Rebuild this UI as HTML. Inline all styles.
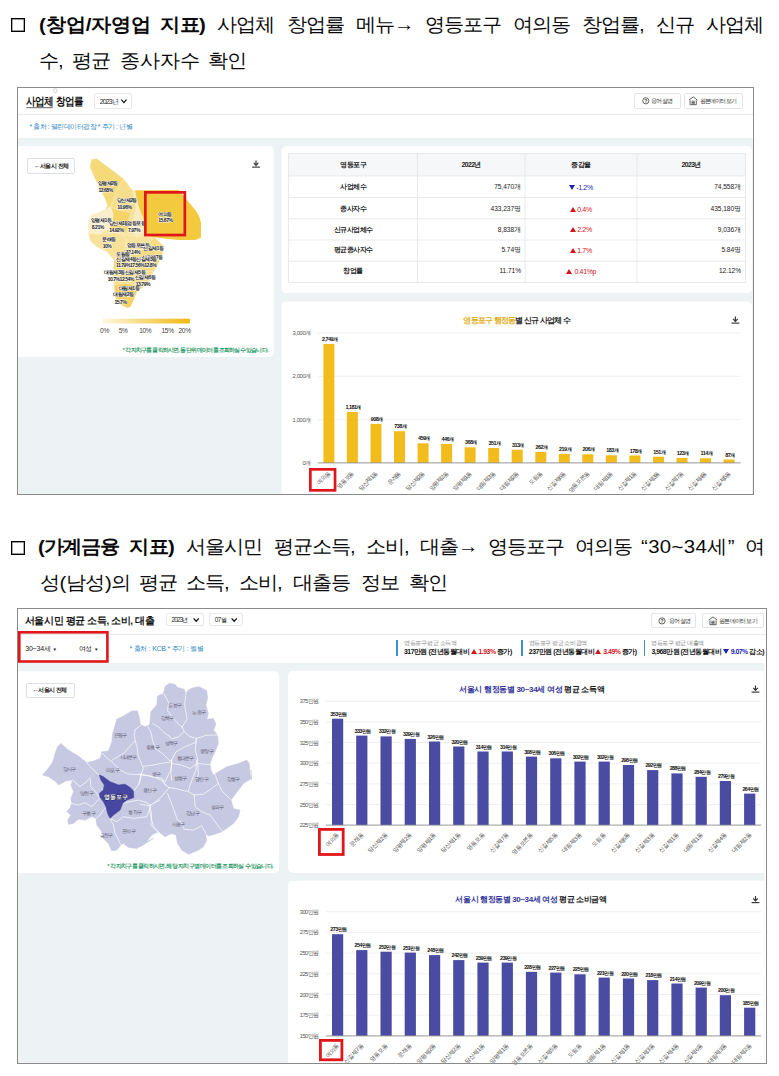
<!DOCTYPE html>
<html lang="ko">
<head>
<meta charset="utf-8">
<title>서울시 지표 확인</title>
<style>
html,body{margin:0;padding:0;background:#fff}
body{position:relative;width:779px;height:1076px;overflow:hidden;font-family:"Liberation Sans",sans-serif;color:#111}
.a{position:absolute;white-space:nowrap}
svg text{font-family:"Liberation Sans",sans-serif}
.h{position:absolute;left:0;width:779px;height:26px;font-size:19.2px;line-height:26px;letter-spacing:-1.1px;color:#0a0a0a}
.h span{position:absolute;top:0;white-space:nowrap;transform:scaleX(1.06);transform-origin:0 50%}
.h b{font-weight:bold;letter-spacing:-0.6px}
.cb{position:absolute;width:12.2px;height:12.2px;border:1px solid #000;box-shadow:inset 0 0 0 0.4px #333}
.frame{position:absolute;border:1px solid #8a8a8a;box-sizing:border-box;pointer-events:none}
.t{position:absolute;white-space:nowrap;line-height:1}
.btn{position:absolute;box-sizing:border-box;border:1px solid #e1e4e8;border-radius:2px}
.sel{position:absolute;box-sizing:border-box;border:1px solid #e6e9ec;border-radius:2px}
.up,.dn{display:inline-block;width:0;height:0;border-left:3.2px solid transparent;border-right:3.2px solid transparent;margin-right:1px;vertical-align:0}
.up{border-bottom:5.6px solid #d4141c}
.dn{border-top:5.6px solid #1d22b8}
.red{position:absolute;box-sizing:border-box;border:2px solid #e0151b}
</style>
</head>
<body>
<div class="cb" style="left:10.8px;top:17.8px"></div>
<div class="h" style="top:11.5px"><span style="left:38.8px"><b><i style="font-style:normal;letter-spacing:-0.1px">(창업/자영업</i></b> </span><span style="left:160.2px"><b>지표)</b> </span><span style="left:216.5px">사업체 </span><span style="left:286.6px">창업률 </span><span style="left:355.9px">메뉴→ </span><span style="left:425.2px">영등포구 </span><span style="left:512.5px">여의동 </span><span style="left:581.9px">창업률, </span><span style="left:655.8px">신규 </span><span style="left:705.9px">사업체 </span></div>
<div class="h" style="top:47.5px"><span style="left:38.8px">수, </span><span style="left:72.2px">평균 </span><span style="left:119.7px"><i style="font-style:normal;letter-spacing:-0.1px">종사자수</i> </span><span style="left:208.3px">확인 </span></div>
<div class="cb" style="left:10.8px;top:541px"></div>
<div class="h" style="top:534.3px"><span style="left:37.5px"><b><i style="font-style:normal;letter-spacing:-1.2px">(가계금융</i></b> </span><span style="left:128.7px"><b>지표)</b> </span><span style="left:186.4px">서울시민 </span><span style="left:273.7px">평균소득, </span><span style="left:366.2px">소비, </span><span style="left:419.6px">대출→ </span><span style="left:488.1px">영등포구 </span><span style="left:575.4px">여의동 </span><span style="left:640.9px"><i style="font-style:normal;letter-spacing:0.35px">“30~34세”</i> </span><span style="left:744.9px">여 </span></div>
<div class="h" style="top:569.5px"><span style="left:39.6px"><i style="font-style:normal;letter-spacing:-0.5px">성(남성)의</i> </span><span style="left:139.0px">평균 </span><span style="left:186.0px">소득, </span><span style="left:239.0px">소비, </span><span style="left:293.0px">대출등 </span><span style="left:360.5px">정보 </span><span style="left:408.5px">확인 </span></div>
<svg class="a" style="left:0;top:0" width="779" height="494" viewBox="0 0 779 494"><rect x="18" y="138" width="736" height="357" fill="#edf2f5"/><path d="M18 114.3H754" stroke="#e4e8eb" stroke-width="1"/><path d="M18 146H269a5 5 0 0 1 5 5V352a5 5 0 0 1 -5 5H18Z" fill="#fff"/><rect x="281.5" y="146" width="470.5" height="147" rx="5" fill="#fff"/><rect x="281.5" y="301.5" width="470.5" height="220" rx="5" fill="#fff"/><rect x="288.5" y="153.5" width="457.0" height="22.5" fill="#f6f7f9"/><path d="M288.5 153.5H745.5" stroke="#e2e5e9" stroke-width="0.8"/><path d="M288.5 176H745.5" stroke="#e2e5e9" stroke-width="0.8"/><path d="M288.5 197.5H745.5" stroke="#e2e5e9" stroke-width="0.8"/><path d="M288.5 218.7H745.5" stroke="#e2e5e9" stroke-width="0.8"/><path d="M288.5 240H745.5" stroke="#e2e5e9" stroke-width="0.8"/><path d="M288.5 261.3H745.5" stroke="#e2e5e9" stroke-width="0.8"/><path d="M288.5 282.5H745.5" stroke="#e2e5e9" stroke-width="0.8"/><path d="M288.5 153.5V282.5" stroke="#e2e5e9" stroke-width="0.8"/><path d="M417.5 153.5V282.5" stroke="#e2e5e9" stroke-width="0.8"/><path d="M525 153.5V282.5" stroke="#e2e5e9" stroke-width="0.8"/><path d="M637 153.5V282.5" stroke="#e2e5e9" stroke-width="0.8"/><path d="M745.5 153.5V282.5" stroke="#e2e5e9" stroke-width="0.8"/><polygon points="91.7,159.5 96.7,158.8 108.4,167.5 118.4,175.0 125.9,180.9 130.1,187.6 133.7,190.4 178.5,190.1 186.8,200.1 195.2,210.1 199.3,216.8 201.0,223.4 201.0,230.1 201.0,237.5 195.2,240.0 180.1,240.0 166.8,238.7 154.3,237.3 163.4,245.9 162.1,255.0 158.4,263.4 153.4,271.7 150.1,280.1 143.4,286.7 136.7,291.7 133.7,300.1 130.1,307.1 127.2,307.8 121.7,305.1 115.9,300.1 115.0,293.4 114.2,285.1 112.5,276.7 113.4,268.4 114.2,260.0 106.7,251.7 96.7,246.7 90.0,240.3 88.7,233.3 88.3,225.1 90.0,218.4 92.5,214.3 100.0,211.7 105.0,209.7 107.5,205.1 105.0,198.4 100.0,188.4 95.0,178.4 90.0,166.7" fill="#f7e3a0"/><polygon points="91.7,159.5 96.7,158.8 108.4,167.5 118.4,175.0 123.7,179.4 119.2,185.9 115.9,191.7 113.4,200.1 110.9,207.6 107.5,205.1 105.0,198.4 100.0,188.4 95.0,178.4 90.0,166.7" fill="#f6d978" stroke="#f9e9b6" stroke-width="0.5" stroke-linejoin="round"/><polygon points="123.7,179.4 130.1,187.6 132.6,190.9 134.2,200.1 135.9,208.4 130.1,212.6 122.6,210.9 114.2,208.7 110.9,207.6 113.4,200.1 115.9,191.7 119.2,185.9" fill="#f7de8a" stroke="#fbefc8" stroke-width="0.5" stroke-linejoin="round"/><polygon points="132.6,190.9 135.1,190.4 138.4,205.1 143.8,220.1 144.3,233.4 135.9,236.8 130.1,228.4 135.9,208.4 134.2,200.1" fill="#faecc0"/><polygon points="92.5,214.3 100.0,211.7 105.0,209.7 110.9,207.6 113.4,213.4 112.5,221.8 109.2,228.4 100.0,233.4 90.0,233.4 88.3,225.1 90.0,218.4" fill="#fbefcb" stroke="#fdf6df" stroke-width="0.5" stroke-linejoin="round"/><polygon points="110.9,207.6 114.2,208.7 122.6,210.9 130.1,212.6 128.4,221.8 127.6,230.1 120.1,233.4 112.5,231.8 109.2,228.4 112.5,221.8 113.4,213.4" fill="#f5d465" stroke="#fae8b0" stroke-width="0.5" stroke-linejoin="round"/><polygon points="133.7,190.4 178.5,190.1 186.8,200.1 195.2,210.1 199.3,216.8 201.0,223.4 201.0,230.1 201.0,237.5 195.2,240.0 180.1,240.0 166.8,238.7 154.3,237.3 146.8,236.0 143.8,220.1 138.4,205.1 135.1,190.4" fill="#f3c93e"/><polygon points="88.7,233.3 90.0,240.3 96.7,246.7 106.7,251.7 114.2,260.0 118.4,255.0 125.1,248.4 126.7,240.0 121.7,234.2 113.4,232.5 100.0,234.2" fill="#f8e29a" stroke="#fcf2d2" stroke-width="0.5" stroke-linejoin="round"/><polygon points="121.7,234.2 126.7,240.0 125.1,248.4 130.1,251.7 141.7,250.0 146.8,245.9 154.3,237.3 146.8,236.0 136.7,236.7 130.1,235.0" fill="#f8e39d" stroke="#fcf2d2" stroke-width="0.5" stroke-linejoin="round"/><polygon points="154.3,237.3 163.4,245.9 162.1,255.0 158.4,263.4 153.4,271.7 145.1,270.9 136.7,269.2 130.1,263.4 130.1,251.7 141.7,250.0 146.8,245.9" fill="#f7dc84" stroke="#fbefc8" stroke-width="0.5" stroke-linejoin="round"/><polygon points="114.2,260.0 118.4,255.0 125.1,248.4 130.1,251.7 130.1,263.4 125.1,269.2 117.6,270.1 113.4,268.4" fill="#f6d872" stroke="#fbefc8" stroke-width="0.5" stroke-linejoin="round"/><polygon points="113.4,268.4 117.6,270.1 125.1,269.2 130.1,263.4 136.7,269.2 145.1,270.9 153.4,271.7 150.1,280.1 143.4,286.7 135.1,285.1 125.1,283.4 114.2,285.1 112.5,276.7" fill="#f7df8e" stroke="#fcf2d2" stroke-width="0.5" stroke-linejoin="round"/><polygon points="114.2,285.1 125.1,283.4 135.1,285.1 143.4,286.7 136.7,291.7 133.7,300.1 130.1,307.1 127.2,307.8 121.7,305.1 115.9,300.1 115.0,293.4" fill="#f5d160" stroke="#fae8b0" stroke-width="0.5" stroke-linejoin="round"/><text x="107.7" y="185.4" font-size="5.1" font-weight="bold" text-anchor="middle" fill="#1c1c1c" stroke="#fff" stroke-width="0.8" paint-order="stroke" style="letter-spacing:-0.5px">양평제2동</text><text x="105.6" y="191.7" font-size="5.1" font-weight="bold" text-anchor="middle" fill="#1c1c1c" stroke="#fff" stroke-width="0.8" paint-order="stroke" style="letter-spacing:-0.5px">12.68%</text><text x="126.8" y="202.1" font-size="5.1" font-weight="bold" text-anchor="middle" fill="#1c1c1c" stroke="#fff" stroke-width="0.8" paint-order="stroke" style="letter-spacing:-0.5px">당산제2동</text><text x="124.4" y="209.0" font-size="5.1" font-weight="bold" text-anchor="middle" fill="#1c1c1c" stroke="#fff" stroke-width="0.8" paint-order="stroke" style="letter-spacing:-0.5px">10.96%</text><text x="101.1" y="221.5" font-size="5.1" font-weight="bold" text-anchor="middle" fill="#1c1c1c" stroke="#fff" stroke-width="0.8" paint-order="stroke" style="letter-spacing:-0.5px">양평제1동</text><text x="97.8" y="228.7" font-size="5.1" font-weight="bold" text-anchor="middle" fill="#1c1c1c" stroke="#fff" stroke-width="0.8" paint-order="stroke" style="letter-spacing:-0.5px">8.21%</text><text x="118.7" y="224.6" font-size="5.1" font-weight="bold" text-anchor="middle" fill="#1c1c1c" stroke="#fff" stroke-width="0.8" paint-order="stroke" style="letter-spacing:-0.5px">당산제1동</text><text x="116.3" y="231.8" font-size="5.1" font-weight="bold" text-anchor="middle" fill="#1c1c1c" stroke="#fff" stroke-width="0.8" paint-order="stroke" style="letter-spacing:-0.5px">14.92%</text><text x="136.1" y="225.1" font-size="5.1" font-weight="bold" text-anchor="middle" fill="#1c1c1c" stroke="#fff" stroke-width="0.8" paint-order="stroke" style="letter-spacing:-0.5px">영등포동</text><text x="134.0" y="232.1" font-size="5.1" font-weight="bold" text-anchor="middle" fill="#1c1c1c" stroke="#fff" stroke-width="0.8" paint-order="stroke" style="letter-spacing:-0.5px">7.97%</text><text x="164.9" y="215.6" font-size="5.1" font-weight="bold" text-anchor="middle" fill="#1c1c1c" stroke="#fff" stroke-width="0.8" paint-order="stroke" style="letter-spacing:-0.5px">여의동</text><text x="165.4" y="222.4" font-size="5.1" font-weight="bold" text-anchor="middle" fill="#1c1c1c" stroke="#fff" stroke-width="0.8" paint-order="stroke" style="letter-spacing:-0.5px">15.67%</text><text x="109.1" y="241.1" font-size="5.1" font-weight="bold" text-anchor="middle" fill="#1c1c1c" stroke="#fff" stroke-width="0.8" paint-order="stroke" style="letter-spacing:-0.5px">문래동</text><text x="107.0" y="248.3" font-size="5.1" font-weight="bold" text-anchor="middle" fill="#1c1c1c" stroke="#fff" stroke-width="0.8" paint-order="stroke" style="letter-spacing:-0.5px">10%</text><text x="137.9" y="246.5" font-size="5.1" font-weight="bold" text-anchor="middle" fill="#1c1c1c" stroke="#fff" stroke-width="0.8" paint-order="stroke" style="letter-spacing:-0.5px">영등포본동</text><text x="132.9" y="254.2" font-size="5.1" font-weight="bold" text-anchor="middle" fill="#1c1c1c" stroke="#fff" stroke-width="0.8" paint-order="stroke" style="letter-spacing:-0.5px">12.14%</text><text x="153.2" y="250.3" font-size="5.1" font-weight="bold" text-anchor="middle" fill="#1c1c1c" stroke="#fff" stroke-width="0.8" paint-order="stroke" style="letter-spacing:-0.5px">신길제1동</text><text x="123.2" y="256.0" font-size="5.1" font-weight="bold" text-anchor="middle" fill="#1c1c1c" stroke="#fff" stroke-width="0.8" paint-order="stroke" style="letter-spacing:-0.5px">도림동</text><text x="152.3" y="259.3" font-size="5.1" font-weight="bold" text-anchor="middle" fill="#1c1c1c" stroke="#fff" stroke-width="0.8" paint-order="stroke" style="letter-spacing:-0.5px">신길제7동</text><text x="136.5" y="260.8" font-size="5.1" font-weight="bold" text-anchor="middle" fill="#1c1c1c" stroke="#fff" stroke-width="0.8" paint-order="stroke" style="letter-spacing:-0.5px">신길제4동신길제3동</text><text x="136.1" y="267.0" font-size="5.1" font-weight="bold" text-anchor="middle" fill="#1c1c1c" stroke="#fff" stroke-width="0.8" paint-order="stroke" style="letter-spacing:-0.5px">11.79%17.56%12.8%</text><text x="124.8" y="274.0" font-size="5.1" font-weight="bold" text-anchor="middle" fill="#1c1c1c" stroke="#fff" stroke-width="0.8" paint-order="stroke" style="letter-spacing:-0.5px">대림제3동신길제5동</text><text x="120.8" y="280.8" font-size="5.1" font-weight="bold" text-anchor="middle" fill="#1c1c1c" stroke="#fff" stroke-width="0.8" paint-order="stroke" style="letter-spacing:-0.5px">10.7%12.54%</text><text x="145.1" y="279.0" font-size="5.1" font-weight="bold" text-anchor="middle" fill="#1c1c1c" stroke="#fff" stroke-width="0.8" paint-order="stroke" style="letter-spacing:-0.5px">신길제6동</text><text x="142.9" y="285.7" font-size="5.1" font-weight="bold" text-anchor="middle" fill="#1c1c1c" stroke="#fff" stroke-width="0.8" paint-order="stroke" style="letter-spacing:-0.5px">13.79%</text><text x="128.9" y="289.8" font-size="5.1" font-weight="bold" text-anchor="middle" fill="#1c1c1c" stroke="#fff" stroke-width="0.8" paint-order="stroke" style="letter-spacing:-0.5px">대림제1동</text><text x="123.5" y="296.1" font-size="5.1" font-weight="bold" text-anchor="middle" fill="#1c1c1c" stroke="#fff" stroke-width="0.8" paint-order="stroke" style="letter-spacing:-0.5px">대림제2동</text><text x="120.5" y="303.7" font-size="5.1" font-weight="bold" text-anchor="middle" fill="#1c1c1c" stroke="#fff" stroke-width="0.8" paint-order="stroke" style="letter-spacing:-0.5px">15.7%</text><defs><linearGradient id="lg1" x1="0" x2="1" y1="0" y2="0"><stop offset="0" stop-color="#fdf7e0"/><stop offset="1" stop-color="#f0b90f"/></linearGradient></defs><rect x="102.4" y="318.7" width="87.5" height="4.8" fill="url(#lg1)"/><text x="104.5" y="333.4" font-size="6.6" text-anchor="middle" fill="#444" style="letter-spacing:-0.3px">0%</text><text x="123.2" y="333.4" font-size="6.6" text-anchor="middle" fill="#444" style="letter-spacing:-0.3px">5%</text><text x="145.3" y="333.4" font-size="6.6" text-anchor="middle" fill="#444" style="letter-spacing:-0.3px">10%</text><text x="167.6" y="333.4" font-size="6.6" text-anchor="middle" fill="#444" style="letter-spacing:-0.3px">15%</text><text x="184.6" y="333.4" font-size="6.6" text-anchor="middle" fill="#444" style="letter-spacing:-0.3px">20%</text><g stroke="#333" stroke-width="1.15" fill="none" stroke-linecap="butt"><path d="M256 160.4V165.3M253.7 162.9L256 165.5L258.3 162.9"/><path d="M252.1 167.1H259.9"/></g><path d="M317.7 333H740.5" stroke="#e9ebee" stroke-width="0.8"/><path d="M317.7 376.3H740.5" stroke="#e9ebee" stroke-width="0.8"/><path d="M317.7 419.7H740.5" stroke="#e9ebee" stroke-width="0.8"/><rect x="323.4" y="344.0" width="11" height="118.9" fill="#f2bd1c"/><rect x="346.9" y="412.0" width="11" height="50.9" fill="#f2bd1c"/><rect x="370.5" y="423.9" width="11" height="39.0" fill="#f2bd1c"/><rect x="394.0" y="431.2" width="11" height="31.7" fill="#f2bd1c"/><rect x="417.6" y="443.3" width="11" height="19.6" fill="#f2bd1c"/><rect x="441.1" y="443.9" width="11" height="19.0" fill="#f2bd1c"/><rect x="464.6" y="447.3" width="11" height="15.6" fill="#f2bd1c"/><rect x="488.2" y="448.0" width="11" height="14.9" fill="#f2bd1c"/><rect x="511.7" y="449.7" width="11" height="13.2" fill="#f2bd1c"/><rect x="535.3" y="451.9" width="11" height="11.0" fill="#f2bd1c"/><rect x="558.8" y="453.8" width="11" height="9.1" fill="#f2bd1c"/><rect x="582.3" y="454.3" width="11" height="8.6" fill="#f2bd1c"/><rect x="605.9" y="455.3" width="11" height="7.6" fill="#f2bd1c"/><rect x="629.4" y="455.5" width="11" height="7.4" fill="#f2bd1c"/><rect x="653.0" y="456.7" width="11" height="6.2" fill="#f2bd1c"/><rect x="676.5" y="457.9" width="11" height="5.0" fill="#f2bd1c"/><rect x="700.0" y="458.3" width="11" height="4.6" fill="#f2bd1c"/><rect x="723.6" y="459.5" width="11" height="3.4" fill="#f2bd1c"/><path d="M317.7 462.9H740.5" stroke="#8c8c8c" stroke-width="0.9"/><text x="329.7" y="341.0" font-size="5.4" font-weight="bold" text-anchor="middle" fill="#111" style="letter-spacing:-0.5px">2,749개</text><text x="353.2" y="409.0" font-size="5.4" font-weight="bold" text-anchor="middle" fill="#111" style="letter-spacing:-0.5px">1,181개</text><text x="376.8" y="420.9" font-size="5.4" font-weight="bold" text-anchor="middle" fill="#111" style="letter-spacing:-0.5px">908개</text><text x="400.3" y="428.2" font-size="5.4" font-weight="bold" text-anchor="middle" fill="#111" style="letter-spacing:-0.5px">738개</text><text x="423.9" y="440.3" font-size="5.4" font-weight="bold" text-anchor="middle" fill="#111" style="letter-spacing:-0.5px">459개</text><text x="447.4" y="440.9" font-size="5.4" font-weight="bold" text-anchor="middle" fill="#111" style="letter-spacing:-0.5px">446개</text><text x="470.9" y="444.3" font-size="5.4" font-weight="bold" text-anchor="middle" fill="#111" style="letter-spacing:-0.5px">368개</text><text x="494.5" y="445.0" font-size="5.4" font-weight="bold" text-anchor="middle" fill="#111" style="letter-spacing:-0.5px">351개</text><text x="518.0" y="446.7" font-size="5.4" font-weight="bold" text-anchor="middle" fill="#111" style="letter-spacing:-0.5px">313개</text><text x="541.6" y="448.9" font-size="5.4" font-weight="bold" text-anchor="middle" fill="#111" style="letter-spacing:-0.5px">262개</text><text x="565.1" y="450.8" font-size="5.4" font-weight="bold" text-anchor="middle" fill="#111" style="letter-spacing:-0.5px">219개</text><text x="588.6" y="451.3" font-size="5.4" font-weight="bold" text-anchor="middle" fill="#111" style="letter-spacing:-0.5px">206개</text><text x="612.2" y="452.3" font-size="5.4" font-weight="bold" text-anchor="middle" fill="#111" style="letter-spacing:-0.5px">183개</text><text x="635.7" y="452.5" font-size="5.4" font-weight="bold" text-anchor="middle" fill="#111" style="letter-spacing:-0.5px">178개</text><text x="659.3" y="453.7" font-size="5.4" font-weight="bold" text-anchor="middle" fill="#111" style="letter-spacing:-0.5px">151개</text><text x="682.8" y="454.9" font-size="5.4" font-weight="bold" text-anchor="middle" fill="#111" style="letter-spacing:-0.5px">123개</text><text x="706.3" y="455.3" font-size="5.4" font-weight="bold" text-anchor="middle" fill="#111" style="letter-spacing:-0.5px">114개</text><text x="729.9" y="456.5" font-size="5.4" font-weight="bold" text-anchor="middle" fill="#111" style="letter-spacing:-0.5px">87개</text><text transform="translate(330.6 473.9) rotate(-45)" font-size="5.8" text-anchor="end" fill="#484848" style="letter-spacing:-0.7px">여의동</text><text transform="translate(354.1 473.9) rotate(-45)" font-size="5.8" text-anchor="end" fill="#484848" style="letter-spacing:-0.7px">영등포동</text><text transform="translate(377.7 473.9) rotate(-45)" font-size="5.8" text-anchor="end" fill="#484848" style="letter-spacing:-0.7px">당산제1동</text><text transform="translate(401.2 473.9) rotate(-45)" font-size="5.8" text-anchor="end" fill="#484848" style="letter-spacing:-0.7px">문래동</text><text transform="translate(424.8 473.9) rotate(-45)" font-size="5.8" text-anchor="end" fill="#484848" style="letter-spacing:-0.7px">당산제2동</text><text transform="translate(448.3 473.9) rotate(-45)" font-size="5.8" text-anchor="end" fill="#484848" style="letter-spacing:-0.7px">양평제2동</text><text transform="translate(471.8 473.9) rotate(-45)" font-size="5.8" text-anchor="end" fill="#484848" style="letter-spacing:-0.7px">양평제1동</text><text transform="translate(495.4 473.9) rotate(-45)" font-size="5.8" text-anchor="end" fill="#484848" style="letter-spacing:-0.7px">대림제3동</text><text transform="translate(518.9 473.9) rotate(-45)" font-size="5.8" text-anchor="end" fill="#484848" style="letter-spacing:-0.7px">대림제2동</text><text transform="translate(542.5 473.9) rotate(-45)" font-size="5.8" text-anchor="end" fill="#484848" style="letter-spacing:-0.7px">도림동</text><text transform="translate(566.0 473.9) rotate(-45)" font-size="5.8" text-anchor="end" fill="#484848" style="letter-spacing:-0.7px">신길제6동</text><text transform="translate(589.5 473.9) rotate(-45)" font-size="5.8" text-anchor="end" fill="#484848" style="letter-spacing:-0.7px">영등포본동</text><text transform="translate(613.1 473.9) rotate(-45)" font-size="5.8" text-anchor="end" fill="#484848" style="letter-spacing:-0.7px">대림제1동</text><text transform="translate(636.6 473.9) rotate(-45)" font-size="5.8" text-anchor="end" fill="#484848" style="letter-spacing:-0.7px">신길제1동</text><text transform="translate(660.2 473.9) rotate(-45)" font-size="5.8" text-anchor="end" fill="#484848" style="letter-spacing:-0.7px">신길제3동</text><text transform="translate(683.7 473.9) rotate(-45)" font-size="5.8" text-anchor="end" fill="#484848" style="letter-spacing:-0.7px">신길제7동</text><text transform="translate(707.2 473.9) rotate(-45)" font-size="5.8" text-anchor="end" fill="#484848" style="letter-spacing:-0.7px">신길제4동</text><text transform="translate(730.8 473.9) rotate(-45)" font-size="5.8" text-anchor="end" fill="#484848" style="letter-spacing:-0.7px">신길제5동</text><text x="311" y="335.0" font-size="5.8" text-anchor="end" fill="#555" style="letter-spacing:-0.35px">3,000개</text><text x="311" y="378.3" font-size="5.8" text-anchor="end" fill="#555" style="letter-spacing:-0.35px">2,000개</text><text x="311" y="421.7" font-size="5.8" text-anchor="end" fill="#555" style="letter-spacing:-0.35px">1,000개</text><text x="311" y="465.0" font-size="5.8" text-anchor="end" fill="#555" style="letter-spacing:-0.35px">0개</text><g stroke="#333" stroke-width="1.15" fill="none" stroke-linecap="butt"><path d="M735.4 316.4V321.3M733.1 318.9L735.4 321.5L737.6999999999999 318.9"/><path d="M731.5 323.1H739.3"/></g><path d="M121.30000000000001 99.7L123.9 102.60000000000001L126.5 99.7" fill="none" stroke="#111" stroke-width="1.25"/><path d="M26.4 107.7H52.8" stroke="#222" stroke-width="0.7"/><circle cx="55.2" cy="90.6" r="1.9" fill="#fff" stroke="#b5b5b5" stroke-width="0.6"/><circle cx="645.8" cy="100.8" r="3.1" fill="none" stroke="#333" stroke-width="0.75"/><text x="645.8" y="102.6" font-size="5" text-anchor="middle" fill="#333" font-weight="bold">?</text><g stroke="#333" stroke-width="0.75" fill="none"><path d="M689.0 100.10000000000001L693.2 96.9L697.4000000000001 100.10000000000001"/><path d="M690.1 100.30000000000001V104.7H696.3000000000001V100.30000000000001"/><path d="M691.5 101.2H694.9000000000001M691.5 102.5H694.9000000000001M691.5 103.80000000000001H694.9000000000001"/></g></svg>
<div class="t" style="top:96.0px;font-size:10.6px;height:10.6px;line-height:10.6px;color:#111;font-weight:bold;left:25.8px;letter-spacing:-0.5px;transform:scaleX(0.87);transform-origin:0 50%;">사업체 창업률</div>
<div class="sel" style="left:94.2px;top:93px;width:38px;height:15.7px"></div>
<div class="t" style="top:97.7px;font-size:7px;height:7px;line-height:7px;color:#222;left:99.8px;letter-spacing:-0.95px;">2023년</div>
<div class="btn" style="left:634.2px;top:92.6px;width:47px;height:16.4px"></div>
<div class="t" style="top:97.8px;font-size:6px;height:6px;line-height:6px;color:#333;left:651.4px;letter-spacing:-0.9px;">용어 설명</div>
<div class="btn" style="left:683.5px;top:92.6px;width:59.8px;height:16.4px"></div>
<div class="t" style="top:97.8px;font-size:6px;height:6px;line-height:6px;color:#333;left:699.5px;letter-spacing:-0.9px;">원본데이터 보기</div>
<div class="t" style="top:123.1px;font-size:7.0px;height:7.0px;line-height:7.0px;color:#3288c4;left:29.6px;letter-spacing:-0.48px;">* 출처 : 열린데이터광장 * 주기 : 년별</div>
<div class="btn" style="left:27.3px;top:158.3px;width:48.2px;height:15.8px;border-color:#dcdfe3"></div>
<div class="t" style="top:163.2px;font-size:6.4px;height:6.4px;line-height:6.4px;color:#222;font-weight:bold;left:34.2px;letter-spacing:-0.55px;">←서울시 전체</div>
<div class="t" style="top:347.7px;font-size:5.6px;height:5.6px;line-height:5.6px;color:#2c9a68;font-weight:bold;right:511.4px;text-align:right;letter-spacing:-0.8px;">* 각 자치구를 클릭하시면, 동 단위 데이터를 조회하실 수 있습니다.</div>
<svg class="a" style="left:142.6px;top:189.9px" width="44.2" height="47.4" viewBox="0 0 44.2 47.4"><rect x="2.35" y="2.35" width="39.50" height="42.70" fill="none" stroke="#e0161a" stroke-width="2.7"/></svg>
<div class="t" style="top:162.1px;font-size:6.8px;height:6.8px;line-height:6.8px;color:#222;font-weight:bold;left:203.0px;width:300px;text-align:center;letter-spacing:-0.5px;">영등포구</div>
<div class="t" style="top:162.1px;font-size:6.8px;height:6.8px;line-height:6.8px;color:#222;font-weight:bold;left:321.2px;width:300px;text-align:center;letter-spacing:-0.5px;">2022년</div>
<div class="t" style="top:162.1px;font-size:6.8px;height:6.8px;line-height:6.8px;color:#222;font-weight:bold;left:431.0px;width:300px;text-align:center;letter-spacing:-0.5px;">증감율</div>
<div class="t" style="top:162.1px;font-size:6.8px;height:6.8px;line-height:6.8px;color:#222;font-weight:bold;left:541.2px;width:300px;text-align:center;letter-spacing:-0.5px;">2023년</div>
<div class="t" style="top:184.2px;font-size:6.6px;height:6.6px;line-height:6.6px;color:#222;font-weight:bold;left:203.0px;width:300px;text-align:center;letter-spacing:-0.5px;">사업체수</div>
<div class="t" style="top:184.2px;font-size:6.6px;height:6.6px;line-height:6.6px;color:#222;right:258.0px;text-align:right;letter-spacing:-0.05px;">75,470개</div>
<div class="t" style="top:184.2px;font-size:6.6px;height:6.6px;line-height:6.6px;color:#222;right:38.0px;text-align:right;letter-spacing:-0.05px;">74,558개</div>
<div class="t" style="top:184.0px;font-size:7px;height:7px;line-height:7px;color:#1d22b8;left:431.0px;width:300px;text-align:center;letter-spacing:-0.35px;"><i class="dn"></i>-1.2%</div>
<div class="t" style="top:205.7px;font-size:6.6px;height:6.6px;line-height:6.6px;color:#222;font-weight:bold;left:203.0px;width:300px;text-align:center;letter-spacing:-0.5px;">종사자수</div>
<div class="t" style="top:205.7px;font-size:6.6px;height:6.6px;line-height:6.6px;color:#222;right:258.0px;text-align:right;letter-spacing:-0.05px;">433,237명</div>
<div class="t" style="top:205.7px;font-size:6.6px;height:6.6px;line-height:6.6px;color:#222;right:38.0px;text-align:right;letter-spacing:-0.05px;">435,180명</div>
<div class="t" style="top:205.5px;font-size:7px;height:7px;line-height:7px;color:#d4141c;left:431.0px;width:300px;text-align:center;letter-spacing:-0.35px;"><i class="up"></i>0.4%</div>
<div class="t" style="top:226.5px;font-size:6.6px;height:6.6px;line-height:6.6px;color:#222;font-weight:bold;left:203.0px;width:300px;text-align:center;letter-spacing:-0.5px;">신규사업체수</div>
<div class="t" style="top:226.5px;font-size:6.6px;height:6.6px;line-height:6.6px;color:#222;right:258.0px;text-align:right;letter-spacing:-0.05px;">8,838개</div>
<div class="t" style="top:226.5px;font-size:6.6px;height:6.6px;line-height:6.6px;color:#222;right:38.0px;text-align:right;letter-spacing:-0.05px;">9,036개</div>
<div class="t" style="top:226.3px;font-size:7px;height:7px;line-height:7px;color:#d4141c;left:431.0px;width:300px;text-align:center;letter-spacing:-0.35px;"><i class="up"></i>2.2%</div>
<div class="t" style="top:247.2px;font-size:6.6px;height:6.6px;line-height:6.6px;color:#222;font-weight:bold;left:203.0px;width:300px;text-align:center;letter-spacing:-0.5px;">평균종사자수</div>
<div class="t" style="top:247.2px;font-size:6.6px;height:6.6px;line-height:6.6px;color:#222;right:258.0px;text-align:right;letter-spacing:-0.05px;">5.74명</div>
<div class="t" style="top:247.2px;font-size:6.6px;height:6.6px;line-height:6.6px;color:#222;right:38.0px;text-align:right;letter-spacing:-0.05px;">5.84명</div>
<div class="t" style="top:247.0px;font-size:7px;height:7px;line-height:7px;color:#d4141c;left:431.0px;width:300px;text-align:center;letter-spacing:-0.35px;"><i class="up"></i>1.7%</div>
<div class="t" style="top:268.1px;font-size:6.6px;height:6.6px;line-height:6.6px;color:#222;font-weight:bold;left:203.0px;width:300px;text-align:center;letter-spacing:-0.5px;">창업률</div>
<div class="t" style="top:268.1px;font-size:6.6px;height:6.6px;line-height:6.6px;color:#222;right:258.0px;text-align:right;letter-spacing:-0.05px;">11.71%</div>
<div class="t" style="top:268.1px;font-size:6.6px;height:6.6px;line-height:6.6px;color:#222;right:38.0px;text-align:right;letter-spacing:-0.05px;">12.12%</div>
<div class="t" style="top:267.9px;font-size:7px;height:7px;line-height:7px;color:#d4141c;left:431.0px;width:300px;text-align:center;letter-spacing:-0.35px;"><i class="up"></i> 0.41%p</div>
<div class="t" style="top:317.0px;font-size:8px;height:8px;line-height:8px;color:#222;font-weight:bold;left:366.7px;width:300px;text-align:center;letter-spacing:-0.8px;"><span style="color:#e3ac19">영등포구 행정동</span>별 신규 사업체 수</div>
<svg class="a" style="left:308.2px;top:467.1px" width="29.4" height="25.7" viewBox="0 0 29.4 25.7"><rect x="2.35" y="2.35" width="24.70" height="21.00" fill="none" stroke="#e0161a" stroke-width="2.7"/></svg>
<div class="frame" style="left:17px;top:87px;width:736.7px;height:407.6px"></div>
<svg class="a" style="left:0;top:600px" width="779" height="476" viewBox="0 600 779 476"><rect x="18" y="663" width="746.5" height="401" fill="#edf2f5"/><path d="M18 634.3H767" stroke="#e4e8eb" stroke-width="1"/><path d="M18 671.2H274.2a5 5 0 0 1 5 5V868a5 5 0 0 1 -5 5H18Z" fill="#fff"/><path d="M764.5 670.7H293a5 5 0 0 0 -5 5V868a5 5 0 0 0 5 5H764.5Z" fill="#fff"/><path d="M764.5 880.8H293a5 5 0 0 0 -5 5V1064H764.5Z" fill="#fff"/><polygon points="116.8,719.2 123.5,715.9 131.8,710.9 137.6,710.9 139.3,717.6 140.5,724.7 145.2,726.7 149.5,724.7 150.5,715.9 150.8,711.7 156.7,705.0 157.5,695.9 163.4,693.4 165.0,686.7 169.2,683.3 175.0,684.2 177.6,687.5 184.2,689.2 185.9,693.4 188.4,690.0 193.4,687.5 199.2,686.7 206.8,690.8 207.6,698.4 205.9,705.0 208.4,713.4 206.8,719.2 213.4,718.4 215.9,724.2 213.4,730.1 217.6,735.1 218.4,743.4 215.1,751.8 211.8,758.4 210.1,763.4 210.9,770.1 213.4,775.1 218.4,771.8 226.8,766.8 238.5,763.4 246.8,760.1 249.3,763.4 250.1,773.5 251.5,780.0 251.0,770.0 251.5,778.4 243.5,783.4 238.5,790.0 233.5,796.7 231.0,800.1 233.5,808.4 240.1,810.1 238.5,816.7 233.5,823.4 226.8,828.4 221.8,831.8 215.1,834.3 208.4,835.9 205.4,833.8 206.8,840.1 203.4,846.8 196.7,851.0 188.4,854.3 181.7,850.1 177.6,843.4 175.9,835.1 171.7,833.4 165.0,836.8 158.4,831.8 151.7,835.1 146.7,841.8 140.0,846.8 153.5,838.4 146.8,841.8 141.0,845.9 136.8,848.5 128.5,847.6 123.5,843.4 121.0,845.1 116.8,850.1 111.8,851.0 108.4,843.4 103.4,838.4 101.8,831.8 96.8,825.1 95.9,818.4 91.7,816.7 85.1,820.1 78.4,819.2 73.4,823.4 68.4,824.3 67.6,820.1 70.9,815.1 66.7,811.7 70.1,807.6 71.7,803.4 70.9,798.4 73.4,791.7 70.9,785.0 72.6,780.0 65.9,780.9 58.4,785.0 55.9,781.7 48.4,776.7 42.5,775.0 48.4,768.3 51.7,763.3 53.4,760.0 55.0,753.4 57.5,746.8 60.9,743.4 68.4,750.1 78.4,755.9 86.7,762.6 93.4,760.9 100.1,758.4 101.8,751.8 108.4,750.9 111.8,741.7 112.6,733.4 115.1,725.1" fill="#c7c8e1" stroke="#c7c8e1" stroke-width="0.5" stroke-linejoin="round"/><path d="M185.9 693.4L184.7 705.0L187.1 719.2L182.1 726.7" fill="none" stroke="#fff" stroke-width="0.7" stroke-linejoin="round" stroke-linecap="round"/><path d="M164.2 694.2L168.7 702.5L167.5 710.9L174.2 719.2L180.1 725.9L182.1 726.7" fill="none" stroke="#fff" stroke-width="0.7" stroke-linejoin="round" stroke-linecap="round"/><path d="M170.0 736.7L171.7 739.2L178.4 736.7L184.2 731.7L182.1 726.7" fill="none" stroke="#fff" stroke-width="0.7" stroke-linejoin="round" stroke-linecap="round"/><path d="M184.2 731.7L190.1 736.7L196.7 738.4L206.8 735.1L217.6 735.1" fill="none" stroke="#fff" stroke-width="0.7" stroke-linejoin="round" stroke-linecap="round"/><path d="M170.0 761.3L171.7 760.1L171.7 763.4" fill="none" stroke="#fff" stroke-width="0.7" stroke-linejoin="round" stroke-linecap="round"/><path d="M171.7 760.1L175.9 751.8L185.1 746.8L195.1 742.6L196.7 738.4" fill="none" stroke="#fff" stroke-width="0.7" stroke-linejoin="round" stroke-linecap="round"/><path d="M196.7 738.4L195.1 750.1L197.6 758.4L197.6 763.4L210.9 764.8" fill="none" stroke="#fff" stroke-width="0.7" stroke-linejoin="round" stroke-linecap="round"/><path d="M171.7 763.4L181.7 765.1L190.1 768.5L197.6 763.4" fill="none" stroke="#fff" stroke-width="0.7" stroke-linejoin="round" stroke-linecap="round"/><path d="M197.6 763.4L198.4 773.5L196.7 780.0" fill="none" stroke="#fff" stroke-width="0.7" stroke-linejoin="round" stroke-linecap="round"/><path d="M171.7 763.4L170.9 773.5L171.7 780.0" fill="none" stroke="#fff" stroke-width="0.7" stroke-linejoin="round" stroke-linecap="round"/><path d="M135.2 740.7L123.9 753.0L112.1 760.2" fill="none" stroke="#fff" stroke-width="0.7" stroke-linejoin="round" stroke-linecap="round"/><path d="M102.3 753.5L108.5 759.2L114.6 764.3L120.8 770.5L128.0 774.0L135.2 774.6L141.3 774.0" fill="none" stroke="#fff" stroke-width="0.7" stroke-linejoin="round" stroke-linecap="round"/><path d="M140.3 725.8L135.2 729.4L134.2 735.5L135.2 740.7L137.2 747.9L138.3 756.1L141.3 763.3L143.4 768.4L141.3 774.0L140.3 780.7L138.3 785.0" fill="none" stroke="#fff" stroke-width="0.7" stroke-linejoin="round" stroke-linecap="round"/><path d="M147.5 725.8L151.1 732.5L152.6 740.7L155.7 748.9L161.9 753.0L167.0 758.1L170.0 761.2" fill="none" stroke="#fff" stroke-width="0.7" stroke-linejoin="round" stroke-linecap="round"/><path d="M143.4 766.3L151.6 765.3L161.9 763.3L170.0 762.2" fill="none" stroke="#fff" stroke-width="0.7" stroke-linejoin="round" stroke-linecap="round"/><path d="M141.3 774.0L147.5 775.6L155.7 777.6L161.9 780.7L166.0 785.0" fill="none" stroke="#fff" stroke-width="0.7" stroke-linejoin="round" stroke-linecap="round"/><path d="M152.6 723.7L157.8 726.3L163.9 732.5L170.0 736.6" fill="none" stroke="#fff" stroke-width="0.7" stroke-linejoin="round" stroke-linecap="round"/><path d="M86.7 762.6L93.4 770.1L99.3 775.1" fill="none" stroke="#fff" stroke-width="0.7" stroke-linejoin="round" stroke-linecap="round"/><path d="M196.7 760.0L195.9 770.0L190.1 785.0L188.4 790.9" fill="none" stroke="#fff" stroke-width="0.7" stroke-linejoin="round" stroke-linecap="round"/><path d="M171.7 760.0L170.9 770.0L165.0 781.7L161.7 778.4" fill="none" stroke="#fff" stroke-width="0.7" stroke-linejoin="round" stroke-linecap="round"/><path d="M140.0 775.0L150.0 775.9L161.7 778.4L165.0 785.0L169.2 787.5" fill="none" stroke="#fff" stroke-width="0.7" stroke-linejoin="round" stroke-linecap="round"/><path d="M169.2 787.5L161.7 796.7L153.4 803.4L150.0 805.9L140.0 804.2" fill="none" stroke="#fff" stroke-width="0.7" stroke-linejoin="round" stroke-linecap="round"/><path d="M169.2 787.5L178.4 789.2L188.4 791.7L194.2 795.0" fill="none" stroke="#fff" stroke-width="0.7" stroke-linejoin="round" stroke-linecap="round"/><path d="M194.2 795.0L203.4 794.2L211.8 788.4L218.4 783.4L215.9 776.7L213.4 771.7" fill="none" stroke="#fff" stroke-width="0.7" stroke-linejoin="round" stroke-linecap="round"/><path d="M218.4 783.4L221.8 790.9L231.0 799.7" fill="none" stroke="#fff" stroke-width="0.7" stroke-linejoin="round" stroke-linecap="round"/><path d="M194.2 795.0L195.1 806.7L201.7 811.7L210.1 815.1L215.1 821.7L221.8 830.9" fill="none" stroke="#fff" stroke-width="0.7" stroke-linejoin="round" stroke-linecap="round"/><path d="M167.5 793.4L173.4 808.4L177.6 820.1L180.9 821.7L184.2 829.3L193.4 830.1L201.7 825.9L205.9 833.4" fill="none" stroke="#fff" stroke-width="0.7" stroke-linejoin="round" stroke-linecap="round"/><path d="M150.0 805.9L151.7 815.1L150.8 825.1L157.5 831.8" fill="none" stroke="#fff" stroke-width="0.7" stroke-linejoin="round" stroke-linecap="round"/><path d="M133.8 790.9L138.5 785.0L141.3 774.0" fill="none" stroke="#fff" stroke-width="0.7" stroke-linejoin="round" stroke-linecap="round"/><path d="M72.6 780.0L80.1 786.7L86.7 781.7L90.1 777.5L90.9 786.7L96.8 793.4L99.3 797.6" fill="none" stroke="#fff" stroke-width="0.7" stroke-linejoin="round" stroke-linecap="round"/><path d="M71.7 803.4L78.4 805.1L85.1 802.6L91.7 806.7L96.8 801.7L100.1 798.4" fill="none" stroke="#fff" stroke-width="0.7" stroke-linejoin="round" stroke-linecap="round"/><path d="M95.9 818.4L100.1 815.1L103.4 810.1L105.9 807.6" fill="none" stroke="#fff" stroke-width="0.7" stroke-linejoin="round" stroke-linecap="round"/><path d="M110.1 818.4L116.8 821.7L123.5 816.7L133.5 818.4L146.8 816.7L149.3 810.1L150.2 805.1L160.0 800.1" fill="none" stroke="#fff" stroke-width="0.7" stroke-linejoin="round" stroke-linecap="round"/><path d="M110.1 818.4L113.4 825.1L115.1 833.4L121.0 845.1" fill="none" stroke="#fff" stroke-width="0.7" stroke-linejoin="round" stroke-linecap="round"/><path d="M149.3 810.1L153.5 826.8L160.0 833.4" fill="none" stroke="#fff" stroke-width="0.7" stroke-linejoin="round" stroke-linecap="round"/><path d="M122.6 803.4L130.1 801.7L138.5 800.1L146.8 802.6L150.2 805.1" fill="none" stroke="#fff" stroke-width="0.7" stroke-linejoin="round" stroke-linecap="round"/><polygon points="99.3,775.0 103.4,776.7 110.1,781.7 118.5,785.0 125.1,784.2 130.1,787.5 133.5,790.9 133.8,797.6 126.8,800.1 122.6,803.4 120.1,810.1 113.4,815.1 110.1,818.4 107.6,813.4 105.9,806.7 103.4,801.7 100.1,797.6 99.3,793.4 103.4,790.0 104.3,785.0 100.9,780.0" fill="#4747a1" stroke="#4747a1" stroke-width="0.6" stroke-linejoin="round"/><text x="174.8" y="706.8" font-size="5.2" text-anchor="middle" fill="#55566f" style="letter-spacing:-0.75px">도봉구</text><text x="198.8" y="713.6" font-size="5.2" text-anchor="middle" fill="#55566f" style="letter-spacing:-0.75px">노원구</text><text x="167.1" y="719.8" font-size="5.2" text-anchor="middle" fill="#55566f" style="letter-spacing:-0.75px">강북구</text><text x="120.3" y="737.3" font-size="5.2" text-anchor="middle" fill="#55566f" style="letter-spacing:-0.75px">은평구</text><text x="171.1" y="745" font-size="5.2" text-anchor="middle" fill="#55566f" style="letter-spacing:-0.75px">성북구</text><text x="152.6" y="749" font-size="5.2" text-anchor="middle" fill="#55566f" style="letter-spacing:-0.75px">종로구</text><text x="206.5" y="752.7" font-size="5.2" text-anchor="middle" fill="#55566f" style="letter-spacing:-0.75px">중랑구</text><text x="128" y="759.2" font-size="5.2" text-anchor="middle" fill="#55566f" style="letter-spacing:-0.75px">서대문구</text><text x="185" y="759.8" font-size="5.2" text-anchor="middle" fill="#55566f" style="letter-spacing:-0.75px">동대문구</text><text x="69.1" y="770.6" font-size="5.2" text-anchor="middle" fill="#55566f" style="letter-spacing:-0.75px">강서구</text><text x="112.6" y="772.1" font-size="5.2" text-anchor="middle" fill="#55566f" style="letter-spacing:-0.75px">마포구</text><text x="156.3" y="775.8" font-size="5.2" text-anchor="middle" fill="#55566f" style="letter-spacing:-0.75px">중구</text><text x="180" y="780.4" font-size="5.2" text-anchor="middle" fill="#55566f" style="letter-spacing:-0.75px">성동구</text><text x="201.6" y="781" font-size="5.2" text-anchor="middle" fill="#55566f" style="letter-spacing:-0.75px">광진구</text><text x="233.3" y="781" font-size="5.2" text-anchor="middle" fill="#55566f" style="letter-spacing:-0.75px">강동구</text><text x="149.5" y="792.1" font-size="5.2" text-anchor="middle" fill="#55566f" style="letter-spacing:-0.75px">용산구</text><text x="86.4" y="794.6" font-size="5.2" text-anchor="middle" fill="#55566f" style="letter-spacing:-0.75px">양천구</text><text x="217.3" y="809.1" font-size="5.2" text-anchor="middle" fill="#55566f" style="letter-spacing:-0.75px">송파구</text><text x="134.7" y="814.3" font-size="5.2" text-anchor="middle" fill="#55566f" style="letter-spacing:-0.75px">동작구</text><text x="88.5" y="815.3" font-size="5.2" text-anchor="middle" fill="#55566f" style="letter-spacing:-0.75px">구로구</text><text x="192.4" y="815.3" font-size="5.2" text-anchor="middle" fill="#55566f" style="letter-spacing:-0.75px">강남구</text><text x="177.9" y="826" font-size="5.2" text-anchor="middle" fill="#55566f" style="letter-spacing:-0.75px">서초구</text><text x="128.6" y="833.1" font-size="5.2" text-anchor="middle" fill="#55566f" style="letter-spacing:-0.75px">관악구</text><text x="106.1" y="836.8" font-size="5.2" text-anchor="middle" fill="#55566f" style="letter-spacing:-0.75px">금천구</text><text x="115.6" y="798.5" font-size="6.4" font-weight="bold" text-anchor="middle" fill="#fff" stroke="#22224f" stroke-width="0.8" paint-order="stroke">영등포구</text><path d="M325.9 701.3H761.2" stroke="#e9ebee" stroke-width="0.8"/><path d="M325.9 721.9H761.2" stroke="#e9ebee" stroke-width="0.8"/><path d="M325.9 742.5H761.2" stroke="#e9ebee" stroke-width="0.8"/><path d="M325.9 763.2H761.2" stroke="#e9ebee" stroke-width="0.8"/><path d="M325.9 783.8H761.2" stroke="#e9ebee" stroke-width="0.8"/><path d="M325.9 804.5H761.2" stroke="#e9ebee" stroke-width="0.8"/><rect x="332.0" y="718.7" width="11.2" height="106.4" fill="#4a4ba2"/><rect x="356.2" y="735.6" width="11.2" height="89.5" fill="#4a4ba2"/><rect x="380.5" y="736.4" width="11.2" height="88.7" fill="#4a4ba2"/><rect x="404.7" y="738.9" width="11.2" height="86.2" fill="#4a4ba2"/><rect x="429.0" y="741.5" width="11.2" height="83.6" fill="#4a4ba2"/><rect x="453.2" y="746.5" width="11.2" height="78.6" fill="#4a4ba2"/><rect x="477.4" y="751.5" width="11.2" height="73.6" fill="#4a4ba2"/><rect x="501.7" y="751.5" width="11.2" height="73.6" fill="#4a4ba2"/><rect x="525.9" y="756.6" width="11.2" height="68.5" fill="#4a4ba2"/><rect x="550.2" y="758.3" width="11.2" height="66.8" fill="#4a4ba2"/><rect x="574.4" y="761.6" width="11.2" height="63.5" fill="#4a4ba2"/><rect x="598.6" y="761.6" width="11.2" height="63.5" fill="#4a4ba2"/><rect x="622.9" y="765.0" width="11.2" height="60.1" fill="#4a4ba2"/><rect x="647.1" y="770.1" width="11.2" height="55.0" fill="#4a4ba2"/><rect x="671.4" y="773.4" width="11.2" height="51.7" fill="#4a4ba2"/><rect x="695.6" y="776.8" width="11.2" height="48.3" fill="#4a4ba2"/><rect x="719.8" y="781.0" width="11.2" height="44.1" fill="#4a4ba2"/><rect x="744.1" y="793.6" width="11.2" height="31.5" fill="#4a4ba2"/><path d="M325.9 825.1H761.2" stroke="#8c8c8c" stroke-width="0.9"/><text x="338.4" y="715.7" font-size="5.4" font-weight="bold" text-anchor="middle" fill="#111" style="letter-spacing:-0.55px">353만원</text><text x="362.6" y="732.6" font-size="5.4" font-weight="bold" text-anchor="middle" fill="#111" style="letter-spacing:-0.55px">333만원</text><text x="386.9" y="733.4" font-size="5.4" font-weight="bold" text-anchor="middle" fill="#111" style="letter-spacing:-0.55px">332만원</text><text x="411.1" y="735.9" font-size="5.4" font-weight="bold" text-anchor="middle" fill="#111" style="letter-spacing:-0.55px">329만원</text><text x="435.4" y="738.5" font-size="5.4" font-weight="bold" text-anchor="middle" fill="#111" style="letter-spacing:-0.55px">326만원</text><text x="459.6" y="743.5" font-size="5.4" font-weight="bold" text-anchor="middle" fill="#111" style="letter-spacing:-0.55px">320만원</text><text x="483.8" y="748.5" font-size="5.4" font-weight="bold" text-anchor="middle" fill="#111" style="letter-spacing:-0.55px">314만원</text><text x="508.1" y="748.5" font-size="5.4" font-weight="bold" text-anchor="middle" fill="#111" style="letter-spacing:-0.55px">314만원</text><text x="532.3" y="753.6" font-size="5.4" font-weight="bold" text-anchor="middle" fill="#111" style="letter-spacing:-0.55px">308만원</text><text x="556.6" y="755.3" font-size="5.4" font-weight="bold" text-anchor="middle" fill="#111" style="letter-spacing:-0.55px">306만원</text><text x="580.8" y="758.6" font-size="5.4" font-weight="bold" text-anchor="middle" fill="#111" style="letter-spacing:-0.55px">302만원</text><text x="605.0" y="758.6" font-size="5.4" font-weight="bold" text-anchor="middle" fill="#111" style="letter-spacing:-0.55px">302만원</text><text x="629.3" y="762.0" font-size="5.4" font-weight="bold" text-anchor="middle" fill="#111" style="letter-spacing:-0.55px">298만원</text><text x="653.5" y="767.1" font-size="5.4" font-weight="bold" text-anchor="middle" fill="#111" style="letter-spacing:-0.55px">292만원</text><text x="677.8" y="770.4" font-size="5.4" font-weight="bold" text-anchor="middle" fill="#111" style="letter-spacing:-0.55px">288만원</text><text x="702.0" y="773.8" font-size="5.4" font-weight="bold" text-anchor="middle" fill="#111" style="letter-spacing:-0.55px">284만원</text><text x="726.2" y="778.0" font-size="5.4" font-weight="bold" text-anchor="middle" fill="#111" style="letter-spacing:-0.55px">279만원</text><text x="750.5" y="790.6" font-size="5.4" font-weight="bold" text-anchor="middle" fill="#111" style="letter-spacing:-0.55px">264만원</text><text transform="translate(339.3 835.5) rotate(-45)" font-size="5.8" text-anchor="end" fill="#484848" style="letter-spacing:-0.55px">여의동</text><text transform="translate(363.5 835.5) rotate(-45)" font-size="5.8" text-anchor="end" fill="#484848" style="letter-spacing:-0.55px">문래동</text><text transform="translate(387.8 835.5) rotate(-45)" font-size="5.8" text-anchor="end" fill="#484848" style="letter-spacing:-0.55px">당산제2동</text><text transform="translate(412.0 835.5) rotate(-45)" font-size="5.8" text-anchor="end" fill="#484848" style="letter-spacing:-0.55px">양평제2동</text><text transform="translate(436.3 835.5) rotate(-45)" font-size="5.8" text-anchor="end" fill="#484848" style="letter-spacing:-0.55px">양평제1동</text><text transform="translate(460.5 835.5) rotate(-45)" font-size="5.8" text-anchor="end" fill="#484848" style="letter-spacing:-0.55px">당산제1동</text><text transform="translate(484.7 835.5) rotate(-45)" font-size="5.8" text-anchor="end" fill="#484848" style="letter-spacing:-0.55px">영등포동</text><text transform="translate(509.0 835.5) rotate(-45)" font-size="5.8" text-anchor="end" fill="#484848" style="letter-spacing:-0.55px">신길제7동</text><text transform="translate(533.2 835.5) rotate(-45)" font-size="5.8" text-anchor="end" fill="#484848" style="letter-spacing:-0.55px">영등포본동</text><text transform="translate(557.5 835.5) rotate(-45)" font-size="5.8" text-anchor="end" fill="#484848" style="letter-spacing:-0.55px">신길제5동</text><text transform="translate(581.7 835.5) rotate(-45)" font-size="5.8" text-anchor="end" fill="#484848" style="letter-spacing:-0.55px">대림제3동</text><text transform="translate(605.9 835.5) rotate(-45)" font-size="5.8" text-anchor="end" fill="#484848" style="letter-spacing:-0.55px">도림동</text><text transform="translate(630.2 835.5) rotate(-45)" font-size="5.8" text-anchor="end" fill="#484848" style="letter-spacing:-0.55px">신길제6동</text><text transform="translate(654.4 835.5) rotate(-45)" font-size="5.8" text-anchor="end" fill="#484848" style="letter-spacing:-0.55px">신길제3동</text><text transform="translate(678.7 835.5) rotate(-45)" font-size="5.8" text-anchor="end" fill="#484848" style="letter-spacing:-0.55px">신길제1동</text><text transform="translate(702.9 835.5) rotate(-45)" font-size="5.8" text-anchor="end" fill="#484848" style="letter-spacing:-0.55px">대림제1동</text><text transform="translate(727.1 835.5) rotate(-45)" font-size="5.8" text-anchor="end" fill="#484848" style="letter-spacing:-0.55px">신길제4동</text><text transform="translate(751.4 835.5) rotate(-45)" font-size="5.8" text-anchor="end" fill="#484848" style="letter-spacing:-0.55px">대림제2동</text><text x="318.5" y="703.3" font-size="5.8" text-anchor="end" fill="#555" style="letter-spacing:-0.6px">375만원</text><text x="318.5" y="723.9" font-size="5.8" text-anchor="end" fill="#555" style="letter-spacing:-0.6px">350만원</text><text x="318.5" y="744.5" font-size="5.8" text-anchor="end" fill="#555" style="letter-spacing:-0.6px">325만원</text><text x="318.5" y="765.2" font-size="5.8" text-anchor="end" fill="#555" style="letter-spacing:-0.6px">300만원</text><text x="318.5" y="785.8" font-size="5.8" text-anchor="end" fill="#555" style="letter-spacing:-0.6px">275만원</text><text x="318.5" y="806.5" font-size="5.8" text-anchor="end" fill="#555" style="letter-spacing:-0.6px">250만원</text><text x="318.5" y="827.1" font-size="5.8" text-anchor="end" fill="#555" style="letter-spacing:-0.6px">225만원</text><g stroke="#333" stroke-width="1.15" fill="none" stroke-linecap="butt"><path d="M755.5 685.4V690.3M753.2 687.9L755.5 690.5L757.8 687.9"/><path d="M751.6 692.1H759.4"/></g><path d="M325.9 911.7H761.2" stroke="#e9ebee" stroke-width="0.8"/><path d="M325.9 932.4H761.2" stroke="#e9ebee" stroke-width="0.8"/><path d="M325.9 953.1H761.2" stroke="#e9ebee" stroke-width="0.8"/><path d="M325.9 973.8H761.2" stroke="#e9ebee" stroke-width="0.8"/><path d="M325.9 994.5H761.2" stroke="#e9ebee" stroke-width="0.8"/><path d="M325.9 1015.2H761.2" stroke="#e9ebee" stroke-width="0.8"/><rect x="332.0" y="934.2" width="11.2" height="101.7" fill="#4a4ba2"/><rect x="356.2" y="950.1" width="11.2" height="85.8" fill="#4a4ba2"/><rect x="380.5" y="951.7" width="11.2" height="84.2" fill="#4a4ba2"/><rect x="404.7" y="952.6" width="11.2" height="83.3" fill="#4a4ba2"/><rect x="429.0" y="955.1" width="11.2" height="80.8" fill="#4a4ba2"/><rect x="453.2" y="960.1" width="11.2" height="75.8" fill="#4a4ba2"/><rect x="477.4" y="962.6" width="11.2" height="73.3" fill="#4a4ba2"/><rect x="501.7" y="962.6" width="11.2" height="73.3" fill="#4a4ba2"/><rect x="525.9" y="971.8" width="11.2" height="64.1" fill="#4a4ba2"/><rect x="550.2" y="972.6" width="11.2" height="63.3" fill="#4a4ba2"/><rect x="574.4" y="974.3" width="11.2" height="61.6" fill="#4a4ba2"/><rect x="598.6" y="977.6" width="11.2" height="58.3" fill="#4a4ba2"/><rect x="622.9" y="978.5" width="11.2" height="57.4" fill="#4a4ba2"/><rect x="647.1" y="980.1" width="11.2" height="55.8" fill="#4a4ba2"/><rect x="671.4" y="983.5" width="11.2" height="52.4" fill="#4a4ba2"/><rect x="695.6" y="987.6" width="11.2" height="48.3" fill="#4a4ba2"/><rect x="719.8" y="995.2" width="11.2" height="40.7" fill="#4a4ba2"/><rect x="744.1" y="1007.7" width="11.2" height="28.2" fill="#4a4ba2"/><path d="M325.9 1035.9H761.2" stroke="#8c8c8c" stroke-width="0.9"/><text x="338.4" y="931.2" font-size="5.4" font-weight="bold" text-anchor="middle" fill="#111" style="letter-spacing:-0.55px">273만원</text><text x="362.6" y="947.1" font-size="5.4" font-weight="bold" text-anchor="middle" fill="#111" style="letter-spacing:-0.55px">254만원</text><text x="386.9" y="948.7" font-size="5.4" font-weight="bold" text-anchor="middle" fill="#111" style="letter-spacing:-0.55px">252만원</text><text x="411.1" y="949.6" font-size="5.4" font-weight="bold" text-anchor="middle" fill="#111" style="letter-spacing:-0.55px">251만원</text><text x="435.4" y="952.1" font-size="5.4" font-weight="bold" text-anchor="middle" fill="#111" style="letter-spacing:-0.55px">248만원</text><text x="459.6" y="957.1" font-size="5.4" font-weight="bold" text-anchor="middle" fill="#111" style="letter-spacing:-0.55px">242만원</text><text x="483.8" y="959.6" font-size="5.4" font-weight="bold" text-anchor="middle" fill="#111" style="letter-spacing:-0.55px">239만원</text><text x="508.1" y="959.6" font-size="5.4" font-weight="bold" text-anchor="middle" fill="#111" style="letter-spacing:-0.55px">239만원</text><text x="532.3" y="968.8" font-size="5.4" font-weight="bold" text-anchor="middle" fill="#111" style="letter-spacing:-0.55px">228만원</text><text x="556.6" y="969.6" font-size="5.4" font-weight="bold" text-anchor="middle" fill="#111" style="letter-spacing:-0.55px">227만원</text><text x="580.8" y="971.3" font-size="5.4" font-weight="bold" text-anchor="middle" fill="#111" style="letter-spacing:-0.55px">225만원</text><text x="605.0" y="974.6" font-size="5.4" font-weight="bold" text-anchor="middle" fill="#111" style="letter-spacing:-0.55px">221만원</text><text x="629.3" y="975.5" font-size="5.4" font-weight="bold" text-anchor="middle" fill="#111" style="letter-spacing:-0.55px">220만원</text><text x="653.5" y="977.1" font-size="5.4" font-weight="bold" text-anchor="middle" fill="#111" style="letter-spacing:-0.55px">218만원</text><text x="677.8" y="980.5" font-size="5.4" font-weight="bold" text-anchor="middle" fill="#111" style="letter-spacing:-0.55px">214만원</text><text x="702.0" y="984.6" font-size="5.4" font-weight="bold" text-anchor="middle" fill="#111" style="letter-spacing:-0.55px">209만원</text><text x="726.2" y="992.2" font-size="5.4" font-weight="bold" text-anchor="middle" fill="#111" style="letter-spacing:-0.55px">200만원</text><text x="750.5" y="1004.7" font-size="5.4" font-weight="bold" text-anchor="middle" fill="#111" style="letter-spacing:-0.55px">185만원</text><text transform="translate(339.3 1046.3) rotate(-45)" font-size="5.8" text-anchor="end" fill="#484848" style="letter-spacing:-0.55px">여의동</text><text transform="translate(363.5 1046.3) rotate(-45)" font-size="5.8" text-anchor="end" fill="#484848" style="letter-spacing:-0.55px">신길제7동</text><text transform="translate(387.8 1046.3) rotate(-45)" font-size="5.8" text-anchor="end" fill="#484848" style="letter-spacing:-0.55px">영등포동</text><text transform="translate(412.0 1046.3) rotate(-45)" font-size="5.8" text-anchor="end" fill="#484848" style="letter-spacing:-0.55px">문래동</text><text transform="translate(436.3 1046.3) rotate(-45)" font-size="5.8" text-anchor="end" fill="#484848" style="letter-spacing:-0.55px">양평제2동</text><text transform="translate(460.5 1046.3) rotate(-45)" font-size="5.8" text-anchor="end" fill="#484848" style="letter-spacing:-0.55px">당산제2동</text><text transform="translate(484.7 1046.3) rotate(-45)" font-size="5.8" text-anchor="end" fill="#484848" style="letter-spacing:-0.55px">당산제1동</text><text transform="translate(509.0 1046.3) rotate(-45)" font-size="5.8" text-anchor="end" fill="#484848" style="letter-spacing:-0.55px">양평제1동</text><text transform="translate(533.2 1046.3) rotate(-45)" font-size="5.8" text-anchor="end" fill="#484848" style="letter-spacing:-0.55px">영등포본동</text><text transform="translate(557.5 1046.3) rotate(-45)" font-size="5.8" text-anchor="end" fill="#484848" style="letter-spacing:-0.55px">신길제5동</text><text transform="translate(581.7 1046.3) rotate(-45)" font-size="5.8" text-anchor="end" fill="#484848" style="letter-spacing:-0.55px">도림동</text><text transform="translate(605.9 1046.3) rotate(-45)" font-size="5.8" text-anchor="end" fill="#484848" style="letter-spacing:-0.55px">대림제1동</text><text transform="translate(630.2 1046.3) rotate(-45)" font-size="5.8" text-anchor="end" fill="#484848" style="letter-spacing:-0.55px">신길제1동</text><text transform="translate(654.4 1046.3) rotate(-45)" font-size="5.8" text-anchor="end" fill="#484848" style="letter-spacing:-0.55px">신길제3동</text><text transform="translate(678.7 1046.3) rotate(-45)" font-size="5.8" text-anchor="end" fill="#484848" style="letter-spacing:-0.55px">신길제4동</text><text transform="translate(702.9 1046.3) rotate(-45)" font-size="5.8" text-anchor="end" fill="#484848" style="letter-spacing:-0.55px">신길제6동</text><text transform="translate(727.1 1046.3) rotate(-45)" font-size="5.8" text-anchor="end" fill="#484848" style="letter-spacing:-0.55px">대림제3동</text><text transform="translate(751.4 1046.3) rotate(-45)" font-size="5.8" text-anchor="end" fill="#484848" style="letter-spacing:-0.55px">대림제2동</text><text x="318.5" y="913.7" font-size="5.8" text-anchor="end" fill="#555" style="letter-spacing:-0.6px">300만원</text><text x="318.5" y="934.4" font-size="5.8" text-anchor="end" fill="#555" style="letter-spacing:-0.6px">275만원</text><text x="318.5" y="955.1" font-size="5.8" text-anchor="end" fill="#555" style="letter-spacing:-0.6px">250만원</text><text x="318.5" y="975.8" font-size="5.8" text-anchor="end" fill="#555" style="letter-spacing:-0.6px">225만원</text><text x="318.5" y="996.5" font-size="5.8" text-anchor="end" fill="#555" style="letter-spacing:-0.6px">200만원</text><text x="318.5" y="1017.2" font-size="5.8" text-anchor="end" fill="#555" style="letter-spacing:-0.6px">175만원</text><text x="318.5" y="1037.9" font-size="5.8" text-anchor="end" fill="#555" style="letter-spacing:-0.6px">150만원</text><g stroke="#333" stroke-width="1.15" fill="none" stroke-linecap="butt"><path d="M755.5 895.9V900.8M753.2 898.4L755.5 901.0L757.8 898.4"/><path d="M751.6 902.6H759.4"/></g><path d="M193.6 618.3L196.2 621.1999999999999L198.79999999999998 618.3" fill="none" stroke="#111" stroke-width="1.25"/><path d="M231.6 618.3L234.2 621.1999999999999L236.79999999999998 618.3" fill="none" stroke="#111" stroke-width="1.25"/><circle cx="662" cy="620.9" r="3.1" fill="none" stroke="#333" stroke-width="0.75"/><text x="662" y="622.6999999999999" font-size="5" text-anchor="middle" fill="#333" font-weight="bold">?</text><g stroke="#333" stroke-width="0.75" fill="none"><path d="M708.8 620.1L713 616.9L717.2 620.1"/><path d="M709.9 620.3V624.6999999999999H716.1V620.3"/><path d="M711.3 621.1999999999999H714.7M711.3 622.5H714.7M711.3 623.8H714.7"/></g></svg>
<div class="t" style="top:616.0px;font-size:9.6px;height:9.6px;line-height:9.6px;color:#111;font-weight:bold;left:24.6px;letter-spacing:-0.35px;">서울시민 평균 소득, 소비, 대출</div>
<div class="sel" style="left:166.2px;top:612.7px;width:38.1px;height:13.8px"></div>
<div class="t" style="top:616.7px;font-size:6.4px;height:6.4px;line-height:6.4px;color:#222;left:171.6px;letter-spacing:-0.85px;">2023년</div>
<div class="sel" style="left:209.3px;top:612.7px;width:33.6px;height:13.8px"></div>
<div class="t" style="top:616.7px;font-size:6.4px;height:6.4px;line-height:6.4px;color:#222;left:214.8px;letter-spacing:-0.7px;">07월</div>
<div class="btn" style="left:651px;top:612.8px;width:45.2px;height:15.6px"></div>
<div class="t" style="top:617.8px;font-size:6px;height:6px;line-height:6px;color:#333;left:669.2px;letter-spacing:-0.9px;">용어 설명</div>
<div class="btn" style="left:701.8px;top:612.8px;width:62px;height:15.6px"></div>
<div class="t" style="top:617.8px;font-size:6px;height:6px;line-height:6px;color:#333;left:719.2px;letter-spacing:-0.75px;">원본데이터 보기</div>
<div class="t" style="top:645.2px;font-size:7.0px;height:7.0px;line-height:7.0px;color:#222;left:25.2px;letter-spacing:-0.2px;">30~34세 <span style="font-size:4.5px">▼</span></div>
<div class="t" style="top:645.2px;font-size:7.0px;height:7.0px;line-height:7.0px;color:#222;left:78.6px;letter-spacing:-0.2px;">여성 <span style="font-size:4.5px">▼</span></div>
<div class="t" style="top:645.4px;font-size:7.0px;height:7.0px;line-height:7.0px;color:#3288c4;left:129.4px;letter-spacing:-0.25px;">* 출처 : KCB * 주기 : 월별</div>
<div class="a" style="left:390px;top:636px;width:376.5px;height:26px;overflow:hidden"><div style="position:absolute;left:-390px;top:-636px;width:779px;height:1076px"><div class="a" style="left:396.2px;top:640.3px;width:1.6px;height:15.6px;background:#3f8fd0"></div><div class="t" style="top:641.0px;font-size:5.8px;height:5.8px;line-height:5.8px;color:#8a8a8a;left:404.0px;letter-spacing:-0.45px;">영등포구 평균 소득액</div><div class="t" style="top:648.9px;font-size:6.9px;height:6.9px;line-height:6.9px;color:#111;font-weight:bold;left:404.0px;letter-spacing:-0.5px;">317만원 (전년동월대비 <span style="color:#d4141c"><i class="up" style="margin:0 0.5px 0 0"></i> 1.93%</span> 증가)</div><div class="a" style="left:521.0px;top:640.3px;width:1.6px;height:15.6px;background:#3f8fd0"></div><div class="t" style="top:641.0px;font-size:5.8px;height:5.8px;line-height:5.8px;color:#8a8a8a;left:528.8px;letter-spacing:-0.45px;">영등포구 평균 소비금액</div><div class="t" style="top:648.9px;font-size:6.9px;height:6.9px;line-height:6.9px;color:#111;font-weight:bold;left:528.8px;letter-spacing:-0.5px;">237만원 (전년동월대비 <span style="color:#d4141c"><i class="up" style="margin:0 0.5px 0 0"></i> 3.49%</span> 증가)</div><div class="a" style="left:643.6px;top:640.3px;width:1.6px;height:15.6px;background:#3f8fd0"></div><div class="t" style="top:641.0px;font-size:5.8px;height:5.8px;line-height:5.8px;color:#8a8a8a;left:651.4px;letter-spacing:-0.45px;">영등포구 평균 대출액</div><div class="t" style="top:648.9px;font-size:6.9px;height:6.9px;line-height:6.9px;color:#111;font-weight:bold;left:651.4px;letter-spacing:-0.5px;">3,968만원 (전년동월대비 <span style="color:#1d22b8"><i class="dn" style="margin:0 0.5px 0 0"></i> 9.07%</span> 감소)</div></div></div>
<svg class="a" style="left:17.0px;top:630.2px" width="92.7" height="33.8" viewBox="0 0 92.7 33.8"><rect x="2.30" y="2.30" width="88.10" height="29.20" fill="none" stroke="#e0161a" stroke-width="2.6"/></svg>
<div class="btn" style="left:25.5px;top:682.6px;width:49.5px;height:15.4px;border-color:#dcdfe3"></div>
<div class="t" style="top:687.3px;font-size:6.4px;height:6.4px;line-height:6.4px;color:#222;font-weight:bold;left:32.6px;letter-spacing:-0.55px;">←서울시 전체</div>
<div class="t" style="top:863.8px;font-size:5.6px;height:5.6px;line-height:5.6px;color:#2c9a68;font-weight:bold;right:506.0px;text-align:right;letter-spacing:-0.67px;">* 각 자치구를 클릭하시면, 해당 자치구별 데이터를 조회하실 수 있습니다.</div>
<div class="t" style="top:685.6px;font-size:8.1px;height:8.1px;line-height:8.1px;color:#222;font-weight:bold;left:381.7px;width:300px;text-align:center;letter-spacing:-0.35px;"><span style="color:#34359a">서울시 행정동별 30~34세 여성</span> 평균 소득액</div>
<div class="t" style="top:896.2px;font-size:8.0px;height:8.0px;line-height:8.0px;color:#222;font-weight:bold;left:381.0px;width:300px;text-align:center;letter-spacing:-0.4px;"><span style="color:#34359a">서울시 행정동별 30~34세 여성</span> 평균 소비금액</div>
<svg class="a" style="left:317.1px;top:826.9px" width="28.6" height="29.9" viewBox="0 0 28.6 29.9"><rect x="2.40" y="2.40" width="23.80" height="25.10" fill="none" stroke="#e0161a" stroke-width="2.8"/></svg>
<svg class="a" style="left:318.2px;top:1037.9px" width="26.3" height="24.2" viewBox="0 0 26.3 24.2"><rect x="2.40" y="2.40" width="21.50" height="19.40" fill="none" stroke="#e0161a" stroke-width="2.8"/></svg>
<div class="frame" style="left:17px;top:608px;width:750.3px;height:456.2px"></div>
</body>
</html>
